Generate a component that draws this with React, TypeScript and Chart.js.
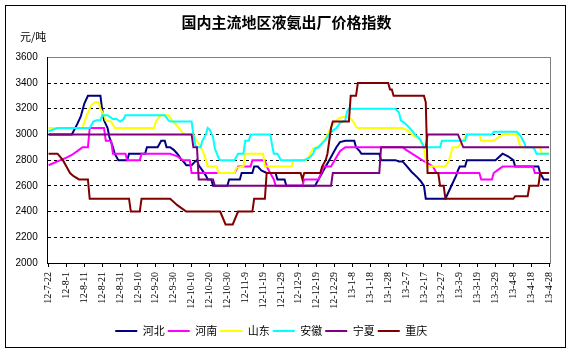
import React, { useEffect, useRef } from 'react';
import { Chart, registerables } from 'chart.js';

Chart.register(...registerables);

const TITLE = '国内主流地区液氨出厂价格指数';
const UNIT = '元/吨';

// tick labels, one every 10 days (day index = 10 * i)
const DATES = [
  '12-7-22', '12-8-1', '12-8-11', '12-8-21', '12-8-31', '12-9-10', '12-9-20', '12-9-30',
  '12-10-10', '12-10-20', '12-10-30', '12-11-9', '12-11-19', '12-11-29', '12-12-9', '12-12-19',
  '12-12-29', '13-1-8', '13-1-18', '13-1-28', '13-2-7', '13-2-17', '13-2-27', '13-3-9',
  '13-3-19', '13-3-29', '13-4-8', '13-4-18', '13-4-28',
];
const Y_TICKS = [2000, 2200, 2400, 2600, 2800, 3000, 3200, 3400, 3600];

// [day index, price]
const HEBEI: [number, number][] = [
  [0, 3000], [13, 3000], [16, 3080], [18, 3140], [19, 3190], [20, 3240], [22, 3300], [29, 3300],
  [30, 3190], [31, 3110], [33, 3050], [34, 2980], [36, 2900], [37, 2850], [39, 2800], [44, 2800],
  [45, 2850], [54, 2850], [55, 2900], [61, 2900], [63, 2950], [65, 2950], [66, 2900], [68, 2900],
  [70, 2880], [72, 2850], [74, 2810], [76, 2780], [77, 2760], [80, 2760], [82, 2790], [83, 2800],
  [84, 2760], [86, 2720], [88, 2680], [89, 2650], [91, 2650], [92, 2600], [100, 2600], [101, 2650],
  [107, 2650], [108, 2700], [114, 2700], [115, 2750], [117, 2750], [119, 2720], [122, 2700],
  [127, 2700], [128, 2650], [132, 2650], [133, 2600], [149, 2600], [151, 2650], [153, 2700],
  [155, 2750], [157, 2800], [159, 2850], [161, 2900], [163, 2940], [166, 2950], [171, 2950],
  [172, 2900], [174, 2870], [175, 2850], [185, 2850], [186, 2800], [194, 2800], [196, 2790],
  [198, 2790], [200, 2760], [203, 2710], [206, 2670], [208, 2640], [210, 2600], [211, 2500],
  [222, 2500], [224, 2560], [226, 2620], [228, 2680], [229, 2720], [230, 2750], [233, 2750],
  [234, 2800], [250, 2800], [254, 2850], [257, 2830], [260, 2800], [261, 2750], [274, 2750],
  [275, 2700], [277, 2650], [280, 2650],
];
const HENAN: [number, number][] = [
  [0, 2760], [5, 2790], [10, 2820], [13, 2840], [17, 2880], [19, 2900], [22, 2900], [23, 3050],
  [31, 3050], [32, 2950], [35, 2950], [36, 2850], [43, 2850], [44, 2800], [51, 2800], [52, 2850],
  [68, 2850], [72, 2830], [74, 2810], [75, 2800], [79, 2800], [80, 2700], [104, 2700], [106, 2750],
  [113, 2750], [114, 2800], [121, 2800], [122, 2750], [124, 2700], [126, 2650], [127, 2600],
  [142, 2600], [143, 2650], [151, 2650], [154, 2750], [158, 2750], [160, 2800], [163, 2870],
  [166, 2900], [198, 2900], [200, 2880], [209, 2800], [213, 2770], [215, 2750], [217, 2700],
  [241, 2700], [242, 2650], [248, 2650], [249, 2700], [251, 2720], [254, 2750], [271, 2750],
  [272, 2700], [280, 2700],
];
const SHANDONG: [number, number][] = [
  [0, 3050], [19, 3050], [20, 3100], [22, 3170], [24, 3230], [26, 3250], [28, 3250], [29, 3200],
  [31, 3150], [32, 3110], [35, 3100], [37, 3050], [59, 3050], [60, 3100], [62, 3140], [64, 3150],
  [67, 3150], [69, 3110], [71, 3080], [73, 3050], [75, 3010], [77, 3000], [81, 3000], [82, 2970],
  [84, 2930], [86, 2880], [88, 2800], [89, 2750], [94, 2750], [95, 2700], [104, 2700], [105, 2740],
  [109, 2750], [110, 2850], [120, 2850], [121, 2750], [136, 2750], [137, 2800], [144, 2800],
  [146, 2840], [148, 2890], [150, 2900], [152, 2920], [155, 2970], [157, 3030], [159, 3080],
  [161, 3110], [163, 3130], [166, 3140], [168, 3130], [170, 3110], [172, 3060], [173, 3050],
  [198, 3050], [201, 3030], [204, 2990], [207, 2970], [210, 2900], [211, 2800], [212, 2750],
  [222, 2750], [224, 2800], [226, 2900], [229, 2900], [232, 2960], [234, 3000], [241, 3000],
  [242, 2950], [249, 2950], [252, 2980], [254, 3000], [262, 3000], [263, 2950], [264, 2900],
  [275, 2900], [276, 2850], [280, 2850],
];
const ANHUI: [number, number][] = [
  [0, 3025], [5, 3050], [23, 3050], [25, 3100], [27, 3110], [29, 3110], [30, 3150], [33, 3150],
  [34, 3140], [36, 3120], [38, 3120], [40, 3100], [42, 3120], [43, 3150], [65, 3150], [67, 3110],
  [68, 3100], [80, 3100], [81, 3000], [82, 2920], [83, 2900], [85, 2900], [86, 2950], [88, 3000],
  [89, 3050], [90, 3040], [92, 2980], [93, 2890], [95, 2820], [96, 2800], [104, 2800], [106, 2850],
  [109, 2850], [110, 2950], [112, 2950], [113, 3000], [124, 3000], [125, 2920], [126, 2850],
  [128, 2850], [130, 2800], [143, 2800], [146, 2820], [148, 2850], [149, 2890], [151, 2900],
  [153, 2930], [155, 2960], [157, 3000], [159, 3030], [161, 3050], [163, 3090], [166, 3110],
  [167, 3180], [168, 3200], [194, 3200], [196, 3170], [197, 3110], [199, 3090], [202, 3050],
  [205, 3000], [208, 2960], [210, 2900], [219, 2900], [220, 2950], [233, 2950], [234, 3000],
  [248, 3000], [249, 3020], [262, 3020], [264, 2990], [266, 2940], [267, 2900], [271, 2900],
  [272, 2880], [273, 2850], [280, 2850],
];
const NINGXIA: [number, number][] = [
  [0, 3000], [80, 3000], [81, 2900], [83, 2900], [84, 2650], [92, 2650], [93, 2600], [158, 2600],
  [159, 2700], [185, 2700], [186, 2900], [211, 2900], [212, 3000], [229, 3000], [232, 2900],
  [280, 2900],
];
const CHONGQING: [number, number][] = [
  [0, 2850], [5, 2850], [8, 2800], [12, 2700], [14, 2675], [17, 2650], [22, 2650], [23, 2500],
  [45, 2500], [46, 2400], [51, 2400], [52, 2500], [68, 2500], [72, 2450], [77, 2400], [96, 2400],
  [99, 2300], [103, 2300], [106, 2400], [114, 2400], [115, 2500], [121, 2500], [122, 2700],
  [141, 2700], [142, 2650], [143, 2700], [152, 2700], [153, 2750], [155, 2800], [156, 2850],
  [157, 2950], [158, 3050], [159, 3100], [168, 3100], [169, 3300], [172, 3300], [173, 3400],
  [190, 3400], [191, 3350], [192, 3350], [193, 3300], [210, 3300], [211, 3250], [212, 2700],
  [218, 2700], [219, 2600], [221, 2600], [222, 2500], [260, 2500], [261, 2520], [268, 2520],
  [269, 2600], [274, 2600], [275, 2700], [280, 2700],
];

const NAMES = ['河北', '河南', '山东', '安徽', '宁夏', '重庆'];
const COLORS = ['#000080', '#FF00FF', '#FFFF00', '#00FFFF', '#800080', '#800000'];
const SERIES = [HEBEI, HENAN, SHANDONG, ANHUI, NINGXIA, CHONGQING];

const CJK = '"Noto Sans CJK SC", sans-serif';

export default function App() {
  const ref = useRef<HTMLCanvasElement>(null);

  useEffect(() => {
    const canvas = ref.current;
    if (!canvas) return;
    const chart = new Chart(canvas, {
      type: 'line',
      data: {
        datasets: SERIES.map((pts, i) => ({
          label: NAMES[i],
          data: pts.map(([x, y]) => ({ x, y })),
          borderColor: COLORS[i],
          backgroundColor: COLORS[i],
          borderWidth: 2,
          pointRadius: 0,
          tension: 0,
          fill: false,
          order: SERIES.length - i,
        })),
      },
      options: {
        responsive: false,
        animation: false,
        devicePixelRatio: 1,
        layout: { padding: { left: 0, right: 0, top: 0, bottom: 6.5 } },
        plugins: {
          title: {
            display: true,
            text: TITLE,
            color: '#000',
            font: { family: CJK, size: 15, weight: 'bold' },
            padding: { top: 13, bottom: 26.3 },
          },
          legend: {
            position: 'bottom',
            onClick: () => {},
            labels: {
              boxWidth: 22,
              boxHeight: 2,
              padding: 3,
              color: '#000',
              font: { family: CJK, size: 11 },
              generateLabels: (c: any) => [
                ...c.data.datasets.map((ds: any, i: number) => ({
                  text: ds.label,
                  fillStyle: ds.borderColor,
                  strokeStyle: ds.borderColor,
                  lineWidth: 0,
                  hidden: false,
                  datasetIndex: i,
                })),
                { text: '', fillStyle: 'rgba(0,0,0,0)', strokeStyle: 'rgba(0,0,0,0)', lineWidth: 0, hidden: false },
              ],
            },
          },
          tooltip: { enabled: false },
        },
        scales: {
          x: {
            type: 'linear',
            min: -0.5,
            max: 280.5,
            afterBuildTicks: (s: any) => {
              s.ticks = DATES.map((_, i) => ({ value: i * 10 }));
            },
            afterFit: (s: any) => {
              s.height = 59.5;
            },
            ticks: {
              autoSkip: false,
              minRotation: 90,
              maxRotation: 90,
              padding: 5,
              color: '#000',
              font: { family: '"Liberation Serif", serif', size: 10 },
              callback: (v: any) => DATES[Math.round(Number(v) / 10)] ?? '',
            },
            grid: { drawOnChartArea: false, color: '#000', tickLength: 4 },
            border: { color: '#000', width: 1 },
          },
          y: {
            min: 2000,
            max: 3600,
            afterBuildTicks: (s: any) => {
              s.ticks = Y_TICKS.map((v) => ({ value: v }));
            },
            afterFit: (s: any) => {
              s.width = 47.7;
            },
            ticks: {
              padding: 10,
              color: '#000',
              font: { family: '"Liberation Sans", Arial, sans-serif', size: 10 },
              callback: (v: any) => String(v),
            },
            grid: {
              drawTicks: false,
              color: (ctx: any) => (ctx.tick && ctx.tick.value === 3600 ? '#808080' : '#000'),
            },
            border: {
              color: '#000',
              width: 1,
              dash: (ctx: any) =>
                ctx.tick && ctx.tick.value > 2000 && ctx.tick.value < 3600 ? [3, 3] : [],
            },
          },
          y2: {
            position: 'right',
            min: 2000,
            max: 3600,
            afterFit: (s: any) => {
              s.width = 23;
            },
            ticks: { display: false },
            grid: { drawOnChartArea: false, drawTicks: false },
            border: { color: '#808080', width: 1 },
          },
        },
      } as any,
    });
    return () => chart.destroy();
  }, []);

  return (
    <div style={{ position: 'absolute', left: 0, top: 0, width: 573, height: 353, background: '#fff' }}>
      <canvas ref={ref} width={573} height={353} style={{ display: 'block', width: 573, height: 353 }} />
      <div
        style={{
          position: 'absolute',
          left: 20,
          top: 31,
          fontFamily: CJK,
          fontSize: 11,
          lineHeight: '11px',
          color: '#000',
          whiteSpace: 'nowrap',
        }}
      >
        {UNIT}
      </div>
      <div
        style={{
          position: 'absolute',
          left: 5,
          top: 5,
          width: 559,
          height: 341,
          border: '1px solid #000',
          pointerEvents: 'none',
        }}
      />
    </div>
  );
}
